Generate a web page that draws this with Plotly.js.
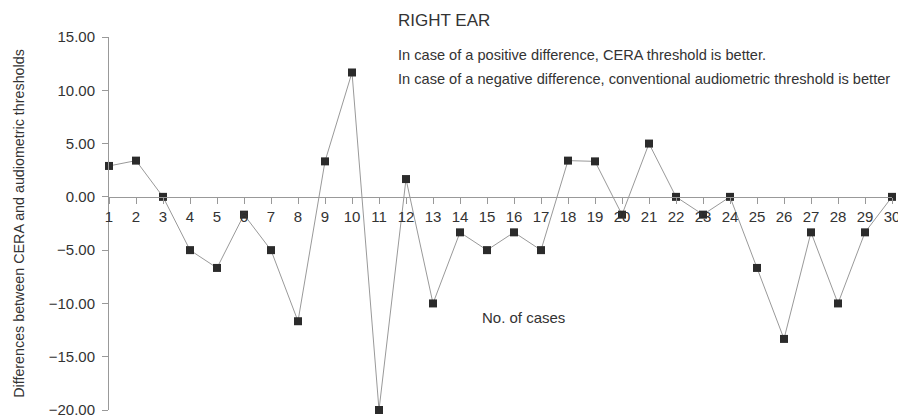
<!DOCTYPE html>
<html>
<head>
<meta charset="utf-8">
<script src="https://cdn.plot.ly/plotly-3.0.1.min.js"></script>
<style>html,body{margin:0;padding:0;background:#fff;}#chart{width:898px;height:417px;}</style>
</head>
<body>
<div id="chart"></div>
<script>
const caseNumbers = [1,2,3,4,5,6,7,8,9,10,11,12,13,14,15,16,17,18,19,20,21,22,23,24,25,26,27,28,29,30];
const differences = [2.9,3.4,0,-5,-6.67,-1.67,-5,-11.67,3.33,11.67,-20,1.67,-10,-3.33,-5,-3.33,-5,3.4,3.33,-1.67,5,0,-1.67,0,-6.67,-13.33,-3.33,-10,-3.33,0];
const yTicks = [15,10,5,0,-5,-10,-15,-20];
const chartTitle = 'RIGHT EAR';
const noteLines = ['In case of a positive difference, CERA threshold is better.',
                   'In case of a negative difference, conventional audiometric threshold is better'];
const yTitle = 'Differences between CERA and audiometric thresholds';
const xTitle = 'No. of cases';

const font = 'Liberation Sans, Arial, Helvetica, sans-serif';
const yMin = -20, yMax = 15;
const ink = '#333';

const trace = {
  x: caseNumbers, y: differences, type: 'scatter', mode: 'lines+markers',
  line: {color: '#999999', width: 1},
  marker: {symbol: 'square', size: 8, color: '#2b2b2b'},
  cliponaxis: false, hoverinfo: 'x+y'
};

const layout = {
  width: 898, height: 417,
  margin: {l: 109, r: 6, t: 37, b: 7},
  paper_bgcolor: '#fff', plot_bgcolor: '#fff',
  showlegend: false,
  font: {family: font, color: ink, size: 15},
  xaxis: {
    range: [1, 30], anchor: 'free', position: (0 - yMin) / (yMax - yMin),
    tickvals: caseNumbers, ticktext: caseNumbers.map(String),
    showline: true, linecolor: '#999', linewidth: 1,
    ticks: 'outside', ticklen: 6, tickcolor: '#999',
    ticklabeloverflow: 'allow',
    showgrid: false, zeroline: false,
    tickfont: {family: font, size: 15, color: ink}
  },
  yaxis: {
    range: [yMin, yMax], tickvals: yTicks, tickformat: '.2f',
    showline: true, linecolor: '#999', linewidth: 1,
    ticks: 'outside', ticklen: 6, tickcolor: '#999',
    ticklabeloverflow: 'allow', ticklabelstandoff: 4,
    showgrid: false, zeroline: false,
    tickfont: {family: font, size: 15, color: ink},
    title: {text: yTitle, font: {family: font, size: 14.3, color: ink}, standoff: 20}
  },
  annotations: [
    {text: chartTitle, xref: 'paper', yref: 'paper', x: 0.367, y: 1.045, xanchor: 'left', yanchor: 'middle', showarrow: false, font: {family: font, size: 17, color: ink}},
    {text: noteLines[0], xref: 'paper', yref: 'paper', x: 0.367, y: 0.951, xanchor: 'left', yanchor: 'middle', showarrow: false, font: {family: font, size: 14.6, color: ink}},
    {text: noteLines[1], xref: 'paper', yref: 'paper', x: 0.367, y: 0.887, xanchor: 'left', yanchor: 'middle', showarrow: false, font: {family: font, size: 14.6, color: ink}},
    {text: xTitle, xref: 'x', yref: 'y', x: 16.37, y: -11.3, xanchor: 'center', yanchor: 'middle', showarrow: false, font: {family: font, size: 15, color: ink}}
  ]
};

Plotly.newPlot('chart', [trace], layout, {displayModeBar: false, staticPlot: true});
</script>
</body>
</html>
